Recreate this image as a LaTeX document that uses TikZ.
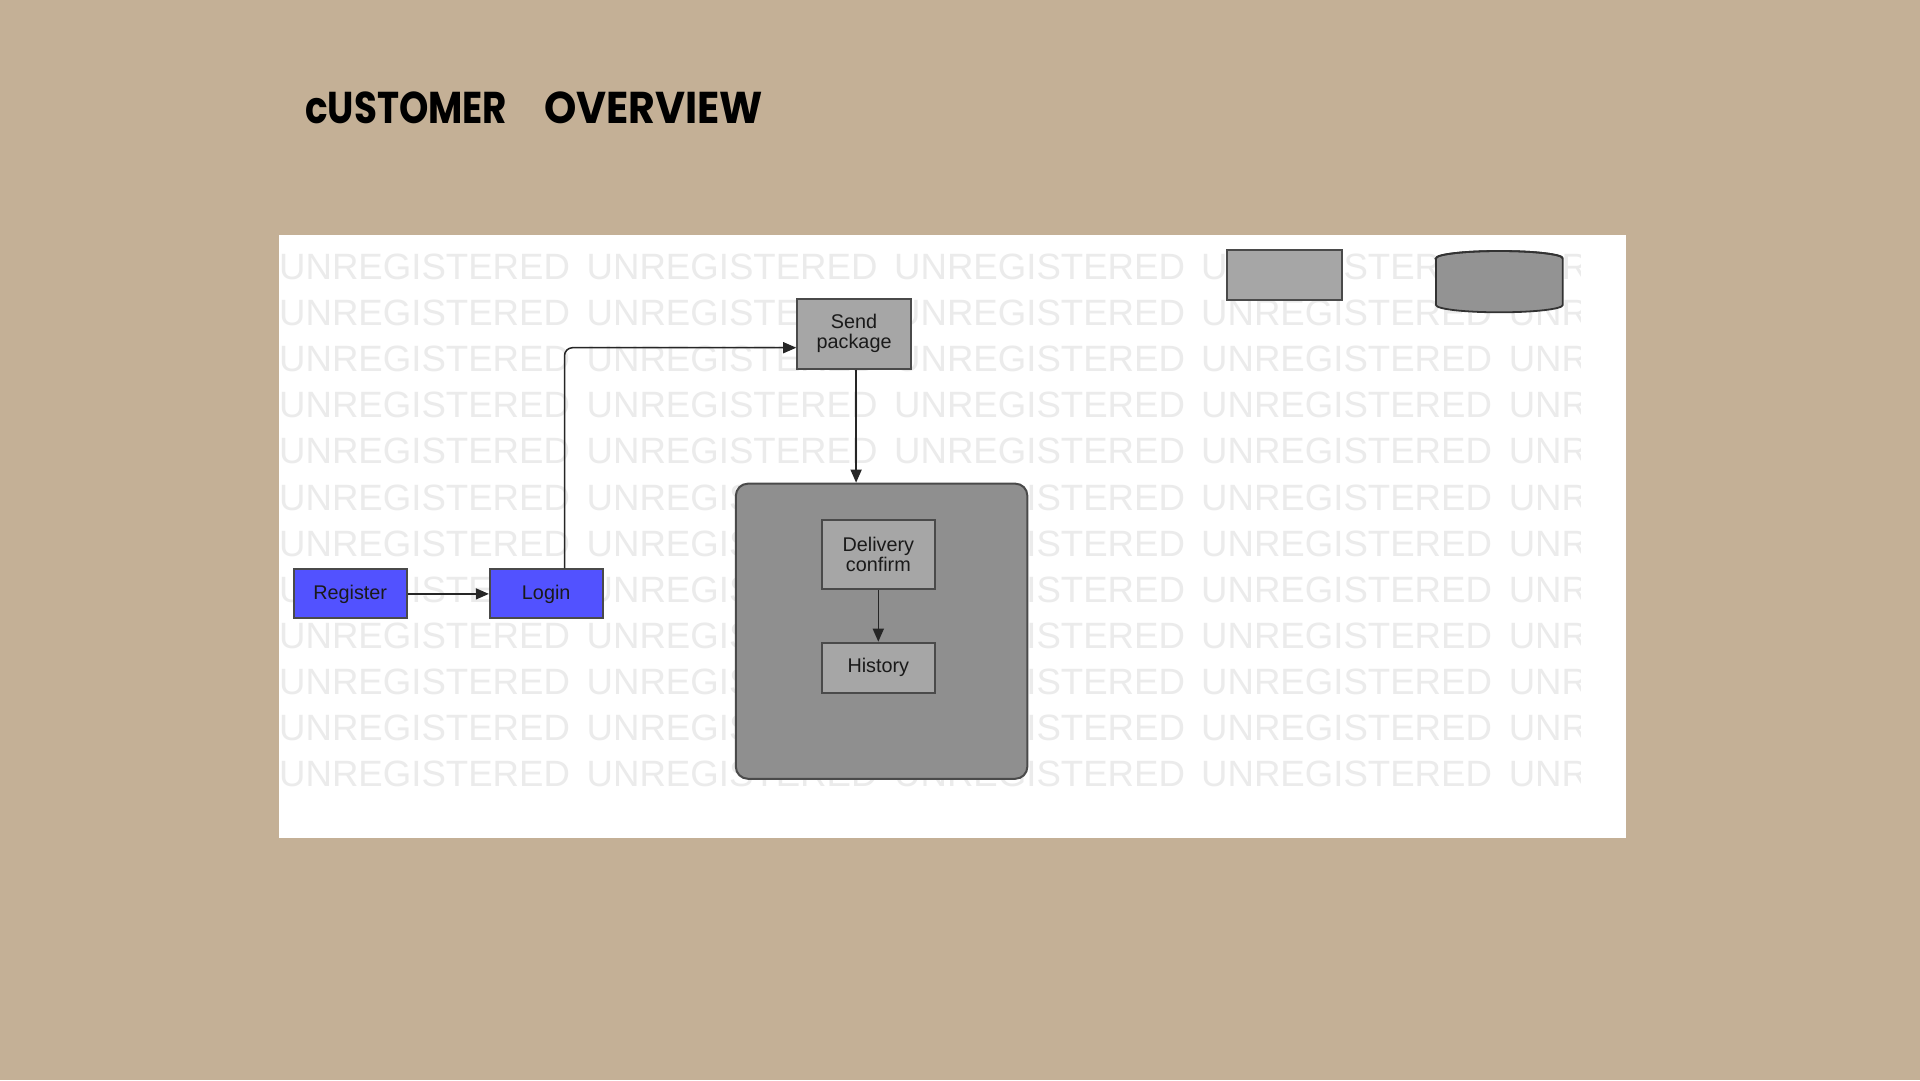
\documentclass[tikz,border=0pt]{standalone}
\usepackage{fontspec}
\usepackage{graphicx}
\setmainfont{Liberation Sans}
\newfontfamily\titlefont{Poppins}
\usetikzlibrary{arrows.meta}
\definecolor{bgtan}{HTML}{C4B096}
\definecolor{boxgray}{HTML}{A6A6A6}
\definecolor{groupgray}{HTML}{8F8F8F}
\definecolor{cylgray}{HTML}{939393}
\definecolor{blueish}{HTML}{5252FF}
\definecolor{edgegray}{HTML}{4A4A4A}
\definecolor{wmark}{HTML}{EBEBEB}
\definecolor{txt}{HTML}{1A1A1A}
\tikzset{
  stepbox/.style={draw=edgegray, line width=2pt, fill=boxgray, inner sep=0pt,
    align=center, text=txt, font=\fontsize{19.8}{20}\selectfont},
  bluebox/.style={stepbox, fill=blueish},
  arr/.style={draw=black!85, line width=1.5pt, -{Triangle[length=13pt,width=11pt]}},
  wm/.style={anchor=west, inner sep=0pt, text=wmark, font=\fontsize{36.6}{40}\selectfont},
  titletext/.style={anchor=base west, inner sep=0pt, text=black}
}
\begin{document}
\begin{tikzpicture}[x=1pt,y=-1pt]
\useasboundingbox (0,0) rectangle (1920,1080);
\fill[bgtan] (0,0) rectangle (1920,1080);
% title
\node[titletext] (t1) at (305,123.3) {\resizebox{202pt}{31.7pt}{\titlefont\bfseries cUSTOMER}};
\node[titletext] (t2) at (544,123.3) {\resizebox{219pt}{31.7pt}{\titlefont\bfseries OVERVIEW}};
% panel
\fill[white] (279.2,235.1) rectangle (1626.4,837.6);
% watermark
\begin{scope}
\clip (279.2,235.1) rectangle (1580,792);
\foreach \r in {0,...,11}{
  \foreach \c in {279,586.5,894,1201,1508.6}{
    \node[wm] at (\c,{267+46.08*\r}) {UNREGISTERED};
  }
}
\end{scope}
% nodes
\node[bluebox, minimum width=112.6pt, minimum height=49pt] (reg) at (350.2,593.9) {Register};
\node[bluebox, minimum width=112.7pt, minimum height=49pt] (login) at (546.2,593.9) {Login};
\node[stepbox, minimum width=113.8pt, minimum height=69.8pt] (send) at (854.1,333.7) {Send\\package};
\node[stepbox, fill=groupgray, rounded corners=12pt, minimum width=291.5pt, minimum height=295.1pt] (grp) at (881.6,631.2) {};
\node[stepbox, minimum width=113.3pt, minimum height=69.3pt] (del) at (878.3,554.7) {Delivery\\confirm};
\node[stepbox, minimum width=113.3pt, minimum height=50pt] (hist) at (878.3,667.7) {History};
\node[stepbox, minimum width=115pt, minimum height=50pt] (legrect) at (1284.2,275) {};
% cylinder
\filldraw[fill=cylgray, draw=black!80, line width=1.8pt]
  (1436,258.3) -- (1436,305) arc[start angle=180, end angle=360, x radius=63.35pt, y radius=7.3pt]
  -- (1562.7,258.3) arc[start angle=0, end angle=180, x radius=63.35pt, y radius=7.3pt] -- cycle;
\draw[line width=1.8pt, draw=black!80] (1436,258.3) arc[start angle=180, end angle=360, x radius=63.35pt, y radius=-7.3pt];
% connectors
\draw[arr] (reg) -- (login);
\draw[arr, rounded corners=8pt] ([xshift=18.3pt]login.north) |- ([yshift=-14pt]send.west);
\draw[arr] ([xshift=2pt]send.south) -- ([xshift=2pt]send.south |- grp.north);
\draw[arr] (del) -- (hist);
\end{tikzpicture}
\end{document}
